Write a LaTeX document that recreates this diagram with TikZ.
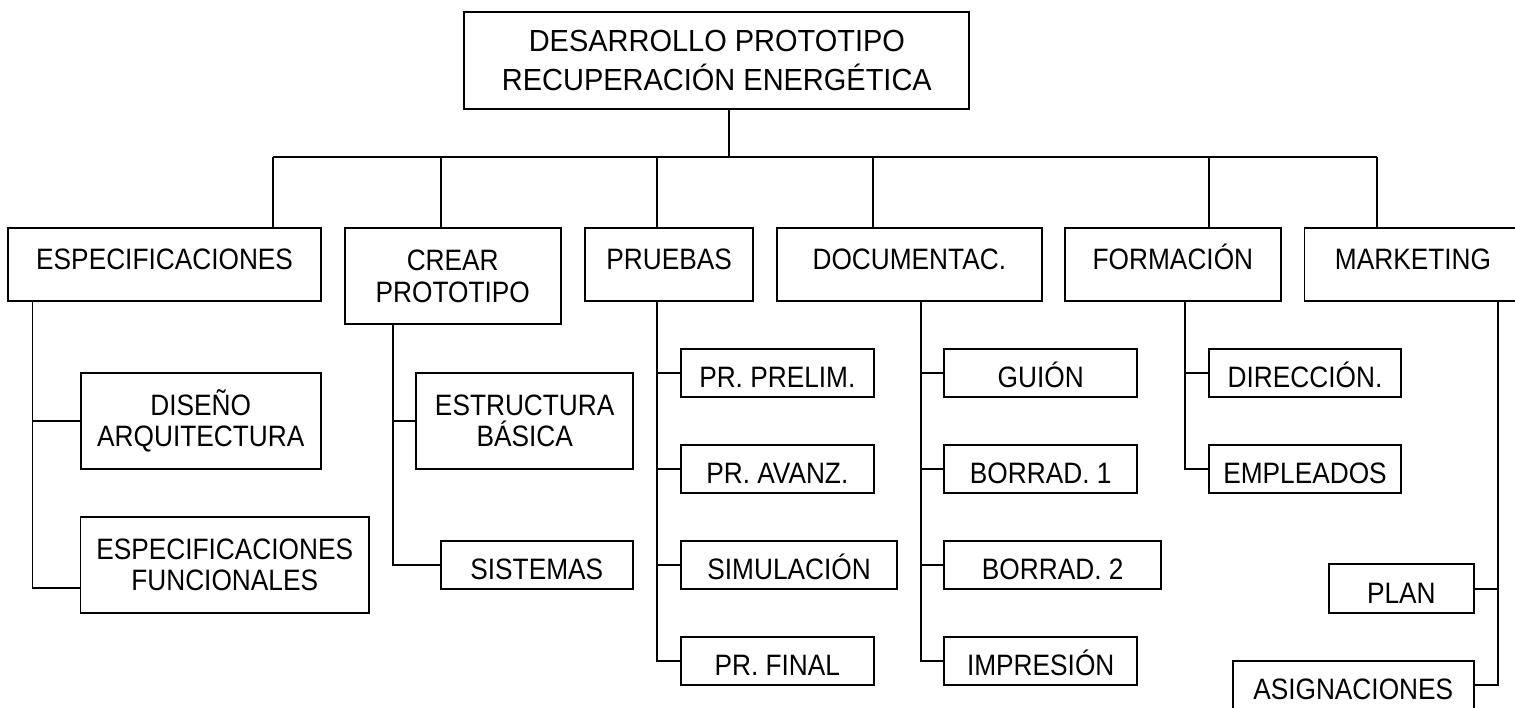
\documentclass[tikz,border=0pt]{standalone}
\usepackage{fontspec}
\setmainfont{Liberation Sans}[FakeStretch=0.89]
\newfontfamily\rootfont{Liberation Sans}[FakeStretch=0.95]

\tikzset{
    box/.style={draw, line width=1.9, inner sep=0pt, align=center, font=\fontsize{29.5}{31.5}\selectfont},
    topbox/.style={box, minimum height=72.4, text height=21pt, text depth=12pt},
    subbox/.style={box, minimum height=48, text height=29pt, text depth=0pt},
    link/.style={line width=1.9}
}

\begin{document}
\begin{tikzpicture}[x=1pt, y=-1pt]
        \useasboundingbox (0,0) rectangle (1515,707);
        \clip (0,0) rectangle (1515,707);

        \node[box, minimum width=505, minimum height=97, font=\rootfont\fontsize{30.5}{39}\selectfont] (root) at (716.9,60.7) {DESARROLLO PROTOTIPO\\RECUPERACIÓN ENERGÉTICA};

        \node[topbox, minimum width=312.8] (espec) at (164.6,264.5) {ESPECIFICACIONES};
        \node[box, minimum width=216.2, minimum height=95.7] (crear) at (452.7,276.2) {CREAR\\PROTOTIPO};
        \node[topbox, minimum width=168.3] (pru) at (669.2,264.5) {PRUEBAS};
        \node[topbox, minimum width=264.8] (doc) at (909.3,264.5) {DOCUMENTAC.};
        \node[topbox, minimum width=216.2] (form) at (1172.9,264.5) {FORMACIÓN};
        \node[topbox, minimum width=217] (mark) at (1413,264.5) {MARKETING};

        \node[box, minimum width=240.5, minimum height=96] (dis) at (200.8,420.7) {DISEÑO\\ARQUITECTURA};
        \node[box, minimum width=288.4, minimum height=96] (efun) at (224.7,564.7) {ESPECIFICACIONES\\FUNCIONALES};

        \node[box, minimum width=216.6, minimum height=96] (est) at (524.7,420.7) {ESTRUCTURA\\BÁSICA};
        \node[subbox, minimum width=192.4] (sis) at (536.8,564.7) {SISTEMAS};

        \node[subbox, minimum width=192.6] (prel) at (777.3,372.9) {PR. PRELIM.};
        \node[subbox, minimum width=192.6] (avz) at (777.3,468.9) {PR. AVANZ.};
        \node[subbox, minimum width=216.2] (sim) at (789.1,564.7) {SIMULACIÓN};
        \node[subbox, minimum width=192.6] (fin) at (777.3,660.7) {PR. FINAL};

        \node[subbox, minimum width=192.6] (gui) at (1040.7,372.9) {GUIÓN};
        \node[subbox, minimum width=192.6] (bo1) at (1040.7,468.9) {BORRAD. 1};
        \node[subbox, minimum width=216.6] (bo2) at (1052.7,564.7) {BORRAD. 2};
        \node[subbox, minimum width=192.6] (imp) at (1040.7,660.7) {IMPRESIÓN};

        \node[subbox, minimum width=192.6] (dir) at (1305,372.9) {DIRECCIÓN.};
        \node[subbox, minimum width=192.6] (emp) at (1305,468.9) {EMPLEADOS};

        \node[subbox, minimum width=144.5, minimum height=49] (plan) at (1401.3,588.8) {PLAN};
        \node[subbox, minimum width=240.7] (asig) at (1353.2,684.7) {ASIGNACIONES};

        \coordinate (stem) at (729,156.7);
        \coordinate (b1) at (272.9,156.7);
        \coordinate (b2) at (441,156.7);
        \coordinate (b3) at (656.8,156.7);
        \coordinate (b4) at (873,156.7);
        \coordinate (b5) at (1209,156.7);
        \coordinate (b6) at (1377,156.7);

        \coordinate (efoot) at (32.5,588.3);
        \coordinate (cfoot) at (392.6,564.7);
        \coordinate (pfoot) at (656.8,660.7);
        \coordinate (dfoot) at (921.3,660.7);
        \coordinate (ffoot) at (1185.1,468.9);
        \coordinate (mfoot) at (1497.6,684.7);

        \draw[link] (stem |- root.south) -- (stem);
        \draw[link] (b1) -- (b6);
        \draw[link] (b1) -- (b1 |- espec.north);
        \draw[link] (b2) -- (b2 |- crear.north);
        \draw[link] (b3) -- (b3 |- pru.north);
        \draw[link] (b4) -- (b4 |- doc.north);
        \draw[link] (b5) -- (b5 |- form.north);
        \draw[link] (b6) -- (b6 |- mark.north);

        \draw[link] (efoot |- espec.south) -- (efoot) -- (efun.west |- efoot);
        \draw[link] (efoot |- dis.west) -- (dis.west);

        \draw[link] (cfoot |- crear.south) -- (cfoot) -- (sis.west);
        \draw[link] (cfoot |- est.west) -- (est.west);

        \draw[link] (pfoot |- pru.south) -- (pfoot) -- (fin.west);
        \draw[link] (pfoot |- prel.west) -- (prel.west);
        \draw[link] (pfoot |- avz.west) -- (avz.west);
        \draw[link] (pfoot |- sim.west) -- (sim.west);

        \draw[link] (dfoot |- doc.south) -- (dfoot) -- (imp.west);
        \draw[link] (dfoot |- gui.west) -- (gui.west);
        \draw[link] (dfoot |- bo1.west) -- (bo1.west);
        \draw[link] (dfoot |- bo2.west) -- (bo2.west);

        \draw[link] (ffoot |- form.south) -- (ffoot) -- (emp.west);
        \draw[link] (ffoot |- dir.west) -- (dir.west);

        \draw[link] (mfoot |- mark.south) -- (mfoot) -- (asig.east);
        \draw[link] (mfoot |- plan.east) -- (plan.east);
\end{tikzpicture}
\end{document}
